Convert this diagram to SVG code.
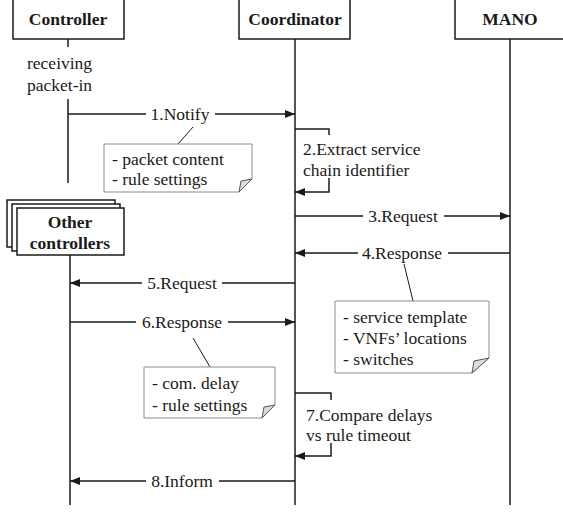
<svg xmlns="http://www.w3.org/2000/svg" width="563" height="513" viewBox="0 0 563 513">
<defs>
<style>
.box{fill:#fff;stroke:#1a1a1a;stroke-width:1.5}
.hd{font-family:"Liberation Serif","Times New Roman",serif;font-weight:bold;font-size:17.5px;fill:#1a1a1a;text-anchor:middle}
.t{font-family:"Liberation Serif","Times New Roman",serif;font-size:17.5px;fill:#1a1a1a}
.mid{text-anchor:middle}
.life{stroke:#1a1a1a;stroke-width:1.5;fill:none}
.msg{stroke:#1a1a1a;stroke-width:1.5;fill:none}
.note{fill:#fff;stroke:#8c8c8c;stroke-width:1}
.fold{fill:#dcdcdc;stroke:#555;stroke-width:1}
.lead{stroke:#1a1a1a;stroke-width:1;fill:none}
</style>
<marker id="ah" viewBox="0 0 10 8" refX="10" refY="4" markerWidth="10" markerHeight="8" markerUnits="userSpaceOnUse" orient="auto">
<path d="M0,0 L10,4 L0,8 Z" fill="#1a1a1a"/>
</marker>
</defs>
<rect width="563" height="513" fill="#fff"/>

<g id="controller">
<rect class="box" x="13" y="-1" width="111" height="40"/>
<text class="hd" x="68" y="25">Controller</text>
<text class="t" x="27" y="69">receiving</text>
<text class="t" x="27" y="91">packet-in</text>
</g>

<g id="coordinator">
<rect class="box" x="239" y="-1" width="111" height="40"/>
<text class="hd" x="295" y="25">Coordinator</text>
</g>

<g id="mano">
<rect class="box" x="455" y="-1" width="110" height="40"/>
<text class="hd" x="510" y="25">MANO</text>
</g>

<g id="other-controllers">
<rect class="box" x="7" y="200" width="108" height="47"/>
<rect class="box" x="12" y="204" width="108" height="47"/>
<rect class="box" x="17" y="208" width="107" height="47"/>
<text class="hd" x="70" y="228">Other</text>
<text class="hd" x="70" y="249">controllers</text>
</g>

<g id="lifelines">
<path class="life" d="M68,39 V47 M68,99 V183"/>
<path class="life" d="M70,255 V505"/>
<path class="life" d="M295,39 V505"/>
<path class="life" d="M510,39 V505"/>
</g>

<g id="connectors">
<path class="msg" d="M68,114 H146 M215,114 H295" marker-end="url(#ah)"/>
<text class="t mid" x="180" y="120">1.Notify</text>

<path class="msg" d="M295,129 H329 V135"/>
<path class="msg" d="M329,178 V192 H295" marker-end="url(#ah)"/>

<path class="msg" d="M295,216 H363 M444,216 H510" marker-end="url(#ah)"/>
<text class="t mid" x="403" y="222">3.Request</text>

<path class="msg" d="M510,253 H448 M358,253 H295" marker-end="url(#ah)"/>
<text class="t mid" x="402" y="259">4.Response</text>

<path class="msg" d="M295,283 H222 M142,283 H70" marker-end="url(#ah)"/>
<text class="t mid" x="182" y="289">5.Request</text>

<path class="msg" d="M70,322 H136 M228,322 H295" marker-end="url(#ah)"/>
<text class="t mid" x="182" y="328">6.Response</text>

<path class="msg" d="M295,393 H331 V400"/>
<path class="msg" d="M331,443 V456 H295" marker-end="url(#ah)"/>

<path class="msg" d="M295,481 H219 M146,481 H70" marker-end="url(#ah)"/>
<text class="t mid" x="182" y="487">8.Inform</text>

<line class="lead" x1="193" y1="127" x2="178" y2="144"/>
<line class="lead" x1="404" y1="264" x2="413" y2="301"/>
<line class="lead" x1="193" y1="338" x2="210" y2="367"/>
</g>

<g id="step2">
<text class="t" x="303" y="155">2.Extract service</text>
<text class="t" x="303" y="176">chain identifier</text>
</g>

<g id="step7">
<text class="t" x="306" y="421">7.Compare delays</text>
<text class="t" x="306" y="441">vs rule timeout</text>
</g>

<g id="note1">
<path class="note" d="M104,144 H252 V179 L239,192 H104 Z"/>
<path class="fold" d="M252,179 L239,192 L241,181 Z"/>
<text class="t" x="112" y="165">- packet content</text>
<text class="t" x="112" y="185">- rule settings</text>
</g>

<g id="note2">
<path class="note" d="M335,301 H489 V358 L472,373 H335 Z"/>
<path class="fold" d="M489,358 L472,373 L474,361 Z"/>
<text class="t" x="343" y="323">- service template</text>
<text class="t" x="343" y="344">- VNFs’ locations</text>
<text class="t" x="343" y="365">- switches</text>
</g>

<g id="note3">
<path class="note" d="M144,367 H275 V405 L262,418 H144 Z"/>
<path class="fold" d="M275,405 L262,418 L264,407 Z"/>
<text class="t" x="152" y="389">- com. delay</text>
<text class="t" x="152" y="411">- rule settings</text>
</g>
</svg>
